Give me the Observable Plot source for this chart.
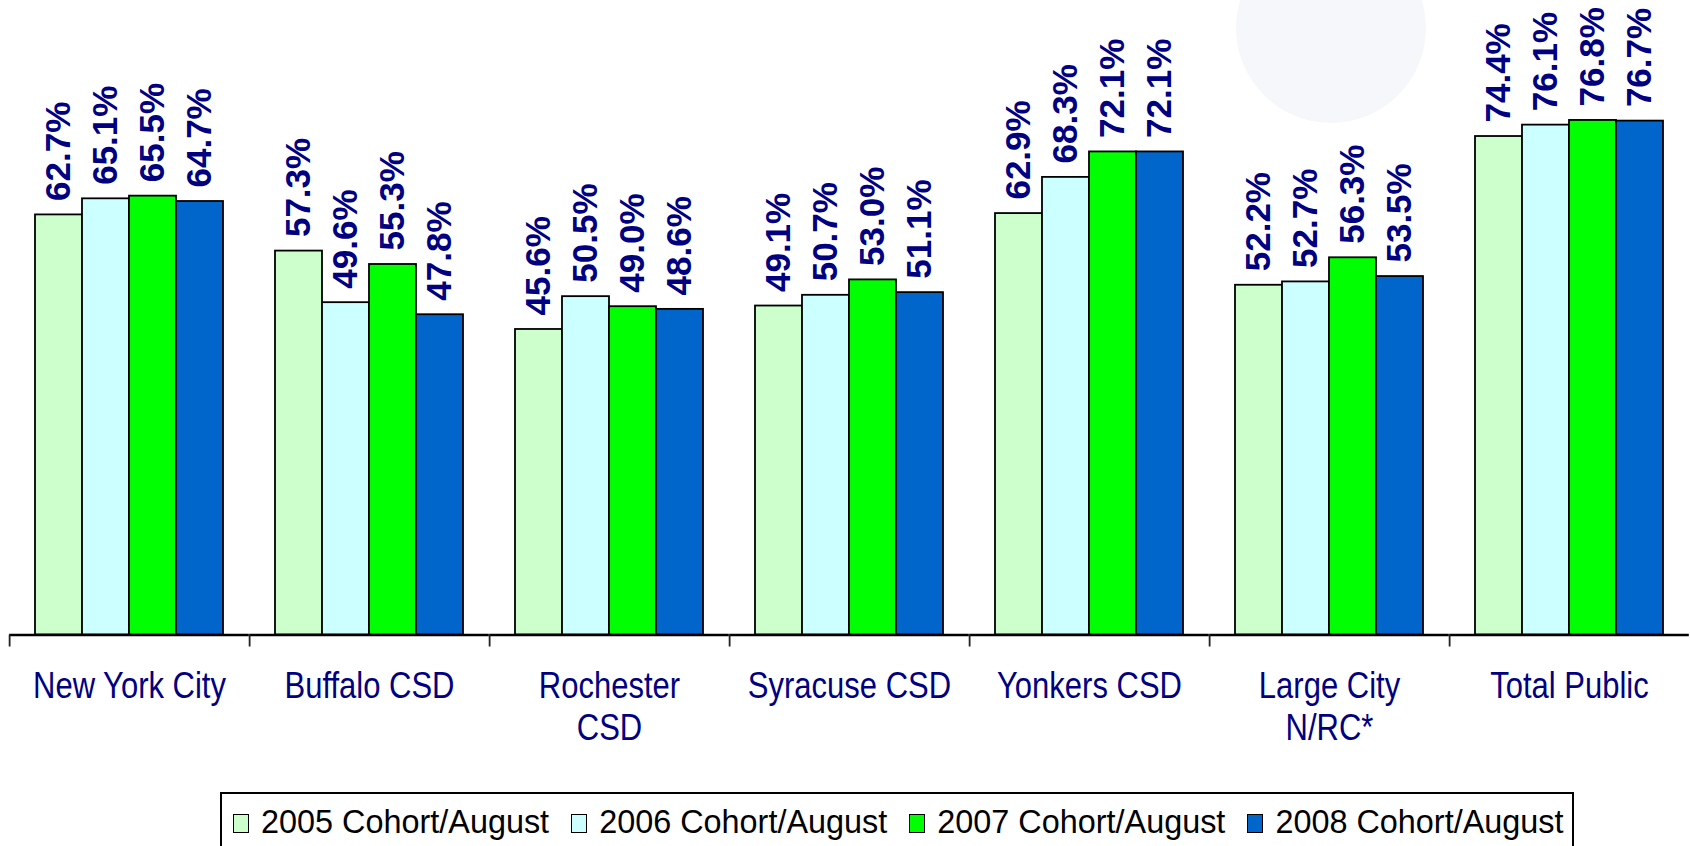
<!DOCTYPE html>
<html>
<head>
<meta charset="utf-8">
<script src="https://cdn.jsdelivr.net/npm/d3@7"></script>
<script src="https://cdn.jsdelivr.net/npm/@observablehq/plot@0.6"></script>
<style>
  html, body { margin: 0; padding: 0; background: #fff; }
  body { width: 1690px; height: 846px; overflow: hidden; position: relative; font-family: Arial, "Liberation Sans", sans-serif; }
  #wm { position: absolute; left: 1236px; top: -67px; width: 190px; height: 190px; border-radius: 50%; background: #F5F7FA; z-index: 0; }
  #chart, #legend { position: relative; z-index: 1; }
  #chart svg { display: block; overflow: visible; }
  #legend {
    margin-top: 12px; margin-left: 220px; width: 1354px; height: 60px;
    border: 2px solid #000; box-sizing: border-box; border-bottom: none;
    display: flex; align-items: flex-start; padding: 8px 0 0 11px; background: #fff;
    font-size: 32.4px; line-height: 40px; color: #000; white-space: nowrap;
  }
  .item { display: flex; align-items: center; margin-right: 22px; }
  .sw { width: 14px; height: 17px; border: 1.5px solid #000; margin-right: 12px; margin-top: 2px; }
</style>
</head>
<body>
<div id="wm"></div>
<div id="chart"></div>
<div id="legend"></div>
<script>
// ---- data ----
const categories = ["New York City", "Buffalo CSD", "Rochester\nCSD", "Syracuse CSD", "Yonkers CSD", "Large City\nN/RC*", "Total Public"];
const series = ["2005 Cohort/August", "2006 Cohort/August", "2007 Cohort/August", "2008 Cohort/August"];
const v2005 = [62.7, 57.3, 45.6, 49.1, 62.9, 52.2, 74.4];
const v2006 = [65.1, 49.6, 50.5, 50.7, 68.3, 52.7, 76.1];
const v2007 = [65.5, 55.3, 49.0, 53.0, 72.1, 56.3, 76.8];
const v2008 = [64.7, 47.8, 48.6, 51.1, 72.1, 53.5, 76.7];
const colors = ["#CCFFCC", "#CCFFFF", "#00FF00", "#0066CC"];

const seriesValues = [v2005, v2006, v2007, v2008];
const table = [];
categories.forEach((c, i) => series.forEach((s, k) => table.push({category: c, series: s, value: seriesValues[k][i]})));

// ---- layout ----
const W = 1690, H = 780, mL = 9, mR = 0;
const base = 634.5, yMax = 90, pxPerUnit = 6.70;
const mB = H - base, mT = base - yMax * pxPerUnit;
const padIn = 0.215, padOut = 0.1075;
const step = (W - mL - mR) / (categories.length - padIn + 2 * padOut);
const facetW = step * (1 - padIn);
const gap = step * padIn;
const barW = facetW / series.length;
const navy = "#000080";
const catSize = 31, stretch = 1.2, lineGap = 41.7;

const chart = Plot.plot({
  width: W, height: H,
  marginLeft: mL, marginRight: mR, marginTop: mT, marginBottom: mB,
  style: {fontFamily: "Arial, 'Liberation Sans', sans-serif", background: "transparent"},
  facet: {data: table, x: "category", marginTop: mT, marginBottom: mB},
  fx: {domain: categories, paddingInner: padIn, paddingOuter: padOut, axis: null, label: null},
  x: {domain: series, padding: 0, axis: null},
  y: {domain: [0, yMax], axis: null},
  color: {domain: series, range: colors},
  marks: [
    Plot.barY(table, {x: "series", y: "value", fill: "series", stroke: "#000", strokeWidth: 1.8}),
    Plot.ruleY([0], {stroke: "#000", strokeWidth: 2.4, insetLeft: -gap / 2, insetRight: -gap / 2}),
    Plot.ruleX([series[0]], {y1: 0, y2: -12 / pxPerUnit, dx: -(barW / 2 + gap / 2), stroke: "#222", strokeWidth: 1.8}),
    Plot.text(table, {
      x: "series", y: "value", text: d => d.value.toFixed(1) + "%",
      rotate: -90, textAnchor: "start", dy: -14,
      fill: navy, fontWeight: "bold", fontSize: 35
    }),
    Plot.text(table, {
      filter: d => d.series === series[0],
      frameAnchor: "bottom", text: "category", lineAnchor: "top",
      dy: 0, lineHeight: lineGap / stretch / catSize, fill: navy, fontSize: catSize,
      fontFamily: "Arial, 'Liberation Sans', sans-serif"
    })
  ]
});
document.getElementById("chart").appendChild(chart);

// place category labels: first baseline at y = 698.3, glyphs a little taller as in the original
const targetBaseline = 698.3;
const norm = s => s.replace(/\s/g, "");
const labelTexts = Array.from(chart.querySelectorAll("text")).filter(t => categories.some(c => norm(c) === norm(t.textContent)));
labelTexts.forEach(t => {
  const first = t.querySelector("tspan") || t;
  const bb = first.getBBox();
  const localBaseline = bb.y + 0.905 * catSize;
  const ctm = t.getCTM();
  const absBaseline = (ctm ? ctm.f : 0) + localBaseline;
  const shift = targetBaseline - absBaseline;
  const prev = t.getAttribute("transform") || "";
  t.setAttribute("transform", `${prev} translate(0,${shift.toFixed(2)}) translate(0,${localBaseline.toFixed(2)}) scale(1,${stretch}) translate(0,${(-localBaseline).toFixed(2)})`.trim());
});

// ---- legend ----
const legend = document.getElementById("legend");
series.forEach((s, k) => {
  const it = document.createElement("div");
  it.className = "item";
  const sw = document.createElement("span");
  sw.className = "sw";
  sw.style.background = colors[k];
  const t = document.createElement("span");
  t.textContent = s;
  it.appendChild(sw); it.appendChild(t);
  legend.appendChild(it);
});
</script>
</body>
</html>
